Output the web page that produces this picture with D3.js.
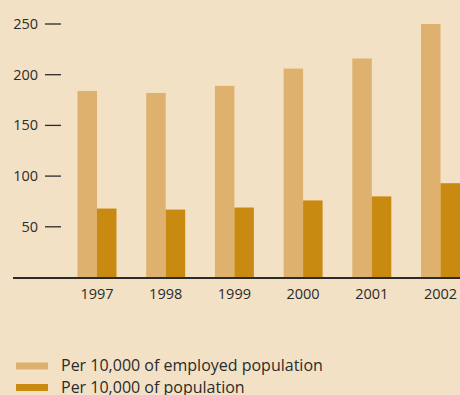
<!DOCTYPE html>
<html>
<head>
<meta charset="utf-8">
<script src="https://cdn.jsdelivr.net/npm/d3@7"></script>
<style>
  html, body { margin: 0; padding: 0; background: #f3e1c6; }
  svg { display: block; }
  text { font-family: "Open Sans", "Noto Sans", sans-serif; fill: #2b2b2b; }
</style>
</head>
<body>
<svg id="chart" width="460" height="395"></svg>
<script>
const years = ['1997', '1998', '1999', '2000', '2001', '2002'];
const perEmployed = [184, 182, 189, 206, 216, 250];
const perPopulation = [68, 67, 69, 76, 80, 93];
const yTicks = [50, 100, 150, 200, 250];
const seriesNames = ['Per 10,000 of employed population', 'Per 10,000 of population'];
const colors = ['#dfb16e', '#c88a10'];

const svg = d3.select('#chart');
const width = 460;

const x = d3.scalePoint().domain(years).range([97, 440.5]);
const y = d3.scaleLinear().domain([0, 250]).range([277.5, 24]);
const barW = 19.5;

const rows = years.map((yr, i) => ({ yr, a: perEmployed[i], b: perPopulation[i] }));

svg.selectAll('rect.emp')
  .data(rows)
  .join('rect')
  .attr('class', 'emp')
  .attr('x', d => x(d.yr) - barW)
  .attr('y', d => y(d.a))
  .attr('width', barW)
  .attr('height', d => y(0) - y(d.a))
  .attr('fill', colors[0]);

svg.selectAll('rect.pop')
  .data(rows)
  .join('rect')
  .attr('class', 'pop')
  .attr('x', d => x(d.yr))
  .attr('y', d => y(d.b))
  .attr('width', barW)
  .attr('height', d => y(0) - y(d.b))
  .attr('fill', colors[1]);

// y ticks: short dashes with labels on the left
const yAxis = svg.append('g');
yAxis.selectAll('line')
  .data(yTicks)
  .join('line')
  .attr('x1', 45).attr('x2', 61)
  .attr('y1', d => y(d)).attr('y2', d => y(d))
  .attr('stroke', '#2b2b2b')
  .attr('stroke-width', 1.3);
yAxis.selectAll('text')
  .data(yTicks)
  .join('text')
  .attr('x', 38)
  .attr('y', d => y(d))
  .attr('dy', '0.35em')
  .attr('text-anchor', 'end')
  .attr('font-size', 14.5)
  .text(d => d);

// baseline
svg.append('line')
  .attr('x1', 13).attr('x2', width)
  .attr('y1', y(0) + 0.5).attr('y2', y(0) + 0.5)
  .attr('stroke', '#2b2b2b')
  .attr('stroke-width', 2);

// year labels
svg.append('g').selectAll('text')
  .data(years)
  .join('text')
  .attr('x', d => x(d))
  .attr('y', 299)
  .attr('text-anchor', 'middle')
  .attr('font-size', 14.5)
  .text(d => d);

// legend
const legend = svg.append('g');
seriesNames.forEach((name, i) => {
  const ly = 366 + i * 21.5;
  legend.append('rect')
    .attr('x', 16).attr('y', ly - 3.5)
    .attr('width', 32).attr('height', 7)
    .attr('fill', colors[i]);
  legend.append('text')
    .attr('x', 61).attr('y', ly + 5)
    .attr('font-size', 16)
    .attr('fill', '#4a4a4a')
    .text(name);
});
</script>
</body>
</html>
